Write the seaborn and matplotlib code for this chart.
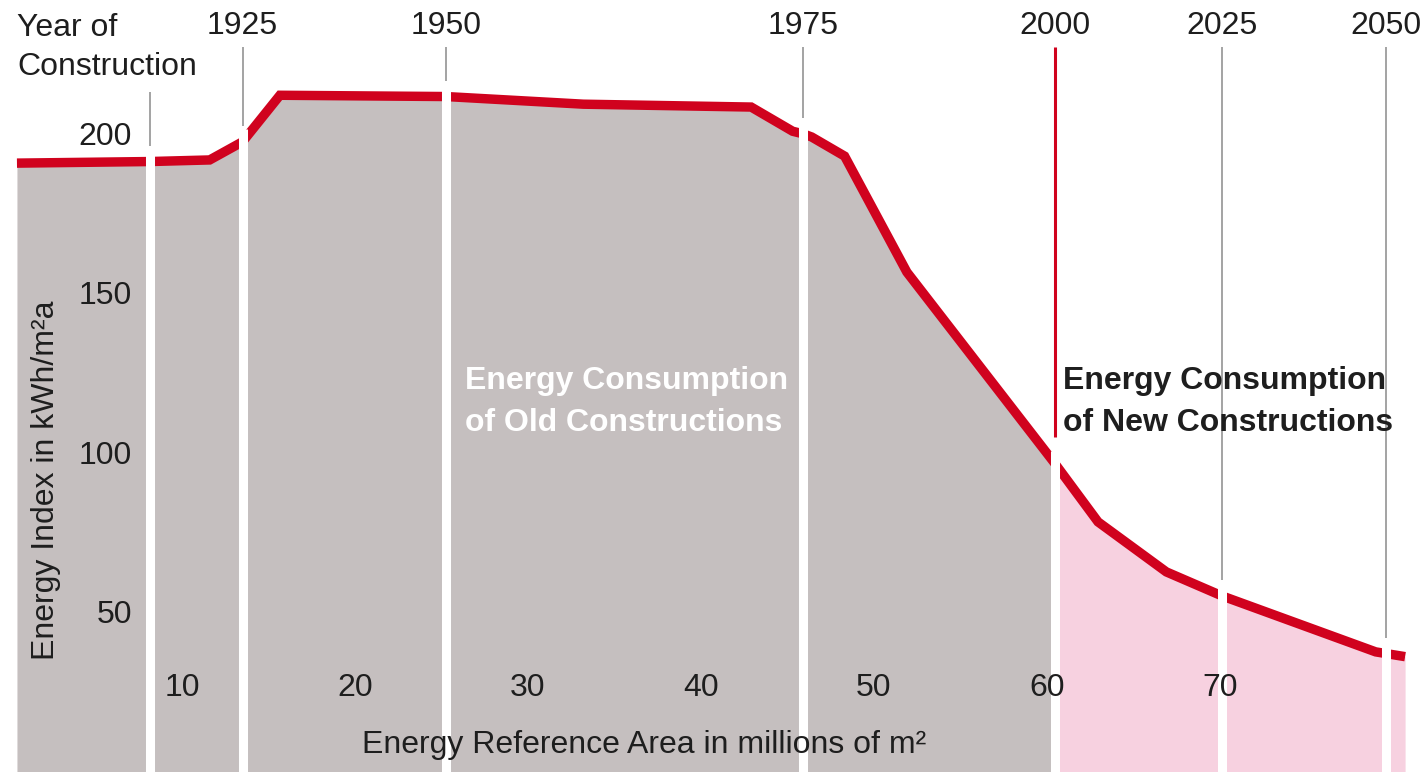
import numpy as np
import matplotlib
matplotlib.use('Agg')
import matplotlib.pyplot as plt
import seaborn as sns

# curve: energy reference area (millions m2) vs energy index (kWh/m2a)
area = [0.46, 8.15, 11.6, 13.5, 15.66, 25.26, 33.2, 42.9, 45.3, 45.9, 46.4, 48.3,
        51.9, 60.46, 62.95, 66.9, 70.1, 79.0, 80.7]
index = [191.8, 192.3, 192.8, 198.5, 213.1, 212.7, 210.3, 209.4, 201.8, 201.0, 200.0, 194.0,
         157.6, 97.5, 79.2, 63.5, 56.0, 38.4, 36.9]

split_area = 60.46   # old / new constructions

# year of construction markers
year_pos = [8.15, 13.5, 25.26, 45.9, 60.46, 70.1, 79.6]
year_labels = ['', '1925', '1950', '1975', '2000', '2025', '2050']

x_ticks = [10, 20, 30, 40, 50, 60, 70]
y_ticks = [200, 150, 100, 50]

RED = '#d0021e'
GREY = '#c5bfbf'
PINK = '#f7d1e0'
TXT = '#1e1e1e'
FS = 23

sns.set_theme(style='white')
plt.rcParams['font.family'] = ['Liberation Sans', 'DejaVu Sans']

fig = plt.figure(figsize=(14.25, 7.72), dpi=100)
ax = fig.add_axes([0, 0, 1, 1])
ax.set_xlim(-0.52, 81.85)
ax.set_ylim(0.7, 243)
ax.axis('off')

a = np.array(area)
e = np.array(index)
ax.fill_between(a, 0, e, where=a <= split_area, color=GREY, lw=0, zorder=1)
ax.fill_between(a, 0, e, where=a >= split_area, color=PINK, lw=0, zorder=1)

sns.lineplot(x=area, y=index, sort=False, color=RED, linewidth=6.8, ax=ax,
             zorder=3, solid_capstyle='butt', solid_joinstyle='miter')

# white cuts and grey ticks at each year
curve_at = np.interp(year_pos, area, index)
for pos, lab, cy in zip(year_pos, year_labels, curve_at):
    ax.vlines(pos, 0, cy + 4, color='white', lw=6.5, zorder=4)
    if lab == '2000':
        ax.vlines(pos, 106, 228.2, color=RED, lw=2.2, zorder=4)
    else:
        top = 214.1 if lab == '' else 228.2
        ax.vlines(pos, cy + 5, top, color='#8a8a8a', lw=1.1, zorder=4)
    if lab:
        ax.text(pos, 234.8, lab, ha='center', va='center', fontsize=FS, color=TXT)

ax.text(0.46, 228.0, 'Year of\nConstruction', ha='left', va='center', fontsize=FS,
        color=TXT, linespacing=1.4)

for t in x_ticks:
    ax.text(t, 27.1, str(t), ha='center', va='center', fontsize=FS, color=TXT, zorder=5)
for t in y_ticks:
    ax.text(7.1, t, str(t), ha='right', va='center', fontsize=FS, color=TXT, zorder=5)

ax.text(20.4, 9.2, 'Energy Reference Area in millions of m\u00b2', ha='left', va='center',
        fontsize=FS, color=TXT, zorder=5)
ax.text(2.14, 92.3, 'Energy Index in kWh/m\u00b2a', ha='center', va='center', rotation=90,
        fontsize=FS, color=TXT, zorder=5)

ax.text(26.36, 116.8, 'Energy Consumption\nof Old Constructions', ha='left', va='center',
        fontsize=FS, fontweight='bold', color='white', linespacing=1.5, zorder=5)
ax.text(60.9, 116.8, 'Energy Consumption\nof New Constructions', ha='left', va='center',
        fontsize=FS, fontweight='bold', color=TXT, linespacing=1.5, zorder=5)

fig.savefig('out.png', dpi=100)
